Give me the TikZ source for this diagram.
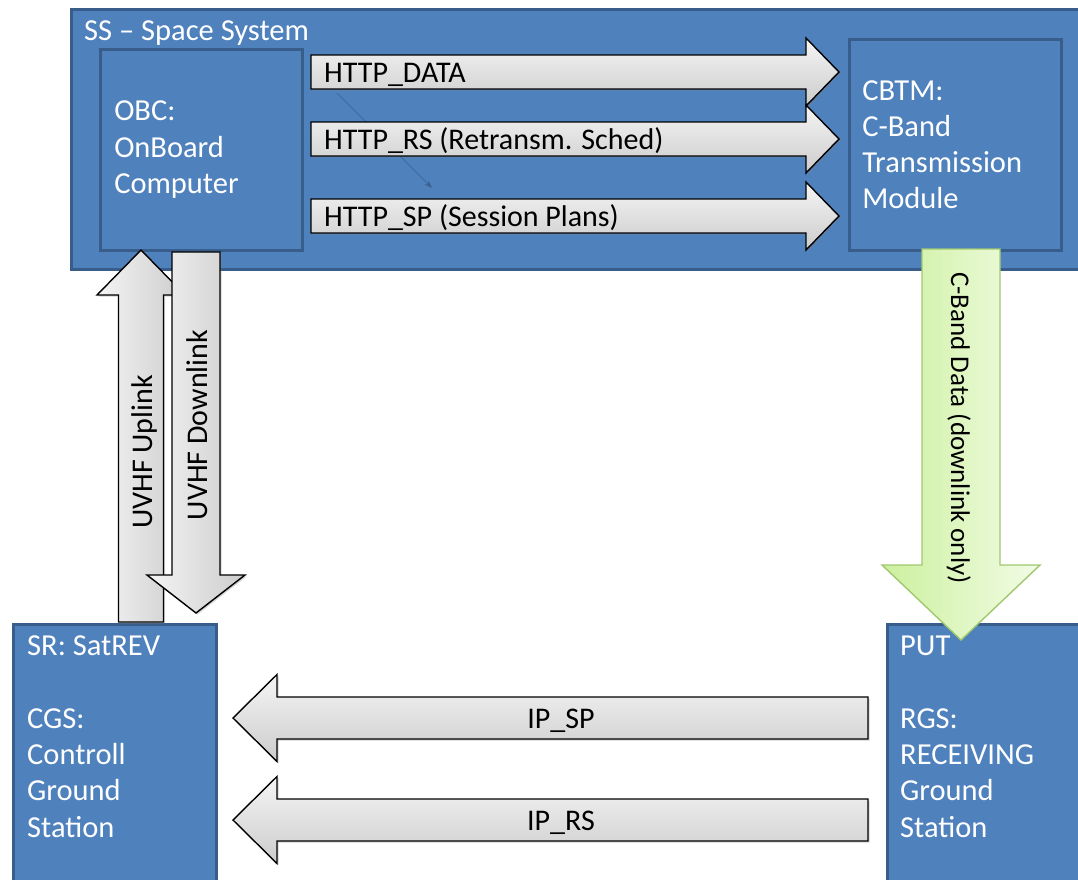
\documentclass[tikz,border=0pt]{standalone}
\usepackage{fontspec}
\setmainfont{Carlito}
\usetikzlibrary{arrows.meta, calc, shadows}

\definecolor{boxblue}{RGB}{79,129,189}
\definecolor{edgeblue}{RGB}{56,93,138}
\definecolor{limel}{RGB}{204,240,158}
\definecolor{limer}{RGB}{242,252,230}
\definecolor{limeedge}{RGB}{160,200,110}

% block arrow: style, tail, tip, shaft half width, head half width, head length
\newcommand{\blockarrow}[6]{%
  \coordinate (ba-h) at ($(#3)!#6!(#2)$);
  \draw[#1] ($(#2)!#4!90:(#3)$) -- ($(ba-h)!#4!90:(#3)$) -- ($(ba-h)!#5!90:(#3)$) -- (#3)
    -- ($(ba-h)!#5!-90:(#3)$) -- ($(ba-h)!#4!-90:(#3)$) -- ($(#2)!#4!-90:(#3)$) -- cycle;}

\begin{document}
\begin{tikzpicture}[x=1pt, y=-1pt,
    box/.style={draw=edgeblue, fill=boxblue, line width=2.5pt, anchor=north west, inner sep=0pt},
    boxtxt/.style={text=white, font=\fontsize{30.5}{36.3}\selectfont, align=left},
    lbl/.style={font=\fontsize{30}{34}\selectfont, inner sep=0pt},
    garrow/.style={draw=black, line width=1.4pt,
      drop shadow={shadow xshift=1.5pt, shadow yshift=-1.5pt, opacity=0.35}},
    hshade/.style={top color=gray!8, bottom color=gray!40},
    vshade/.style={left color=gray!8, right color=gray!40},
    carrow/.style={draw=limeedge, line width=1.4pt, left color=limel, right color=limer},
    trace/.style={-{Stealth[length=8pt]}, edgeblue!60!black, opacity=0.3, line width=0.8pt}]
  \clip (0,0) rectangle (1078,879);

  % space segment
  \node[box, minimum width=1040pt, minimum height=260pt] (ss) at (70,8) {};
  \node[boxtxt, anchor=base west, inner sep=0pt] (ss-title) at (84,40) {SS -- Space System};
  \node[box, boxtxt, minimum width=202pt, minimum height=201pt, inner xsep=14pt, text width=174pt]
    (obc) at (99,48) {OBC:\\OnBoard\\Computer};
  \node[box, boxtxt, minimum width=212pt, minimum height=211pt, inner xsep=13pt, text width=186pt]
    (cbtm) at (848,38) {CBTM:\\C-Band\\Transmission\\Module};

  % ground segment (text anchored on its last line)
  \node[box, minimum width=203pt, minimum height=300pt] (sr) at (12,623) {};
  \node[boxtxt, anchor=base west, inner sep=0pt] (sr-txt) at (27,837)
    {SR: SatREV\\[36.3pt]CGS:\\Controll\\Ground\\Station};
  \node[box, minimum width=220pt, minimum height=300pt] (put) at (886,623) {};
  \node[boxtxt, anchor=base west, inner sep=0pt] (put-txt) at (900,837)
    {PUT\\[36.3pt]RGS:\\RECEIVING\\Ground\\Station};

  \coordinate (trace-s) at (337,93);
  \coordinate (trace-e) at (432,188);
  \draw[trace] (trace-s) -- (trace-e);

  % on-board links
  \foreach \y/\nm/\txt in {72/data/HTTP\_DATA, 139/rs/HTTP\_RS (Retransm. Sched),
                           216/sp/HTTP\_SP (Session Plans)} {
    \coordinate (\nm-s) at (311,\y);
    \coordinate (\nm-e) at (839,\y);
    \blockarrow{garrow, hshade}{\nm-s}{\nm-e}{17pt}{34pt}{33pt}
    \node[lbl, anchor=base west] (\nm-lbl) at (324,\y+10) {\txt};
  }

  % C-band downlink
  \coordinate (cb-s) at (961,249);
  \coordinate (cb-e) at (961,640);
  \blockarrow{carrow}{cb-s}{cb-e}{39pt}{79pt}{75pt}
  \node[lbl, font=\fontsize{27}{30}\selectfont, rotate=-90, anchor=base] (cb-lbl) at (951,428)
    {C-Band Data (downlink only)};

  % UVHF links
  \coordinate (up-s) at (141,622);
  \coordinate (up-e) at (141,250);
  \blockarrow{garrow, vshade}{up-s}{up-e}{22.5pt}{44pt}{45pt}
  \node[lbl, rotate=90, anchor=base] (up-lbl) at (152,452) {UVHF Uplink};
  \coordinate (down-s) at (196,252);
  \coordinate (down-e) at (196,613);
  \blockarrow{garrow, vshade}{down-s}{down-e}{24pt}{49pt}{38pt}
  \node[lbl, rotate=90, anchor=base] (down-lbl) at (207,425) {UVHF Downlink};

  % IP links between ground stations
  \foreach \y/\nm/\txt in {718/ipsp/IP\_SP, 820/iprs/IP\_RS} {
    \coordinate (\nm-s) at (868,\y);
    \coordinate (\nm-e) at (233,\y);
    \blockarrow{garrow, hshade}{\nm-s}{\nm-e}{21pt}{43.5pt}{44pt}
    \node[lbl, anchor=base] (\nm-lbl) at (561,\y+10) {\txt};
  }
\end{tikzpicture}
\end{document}
